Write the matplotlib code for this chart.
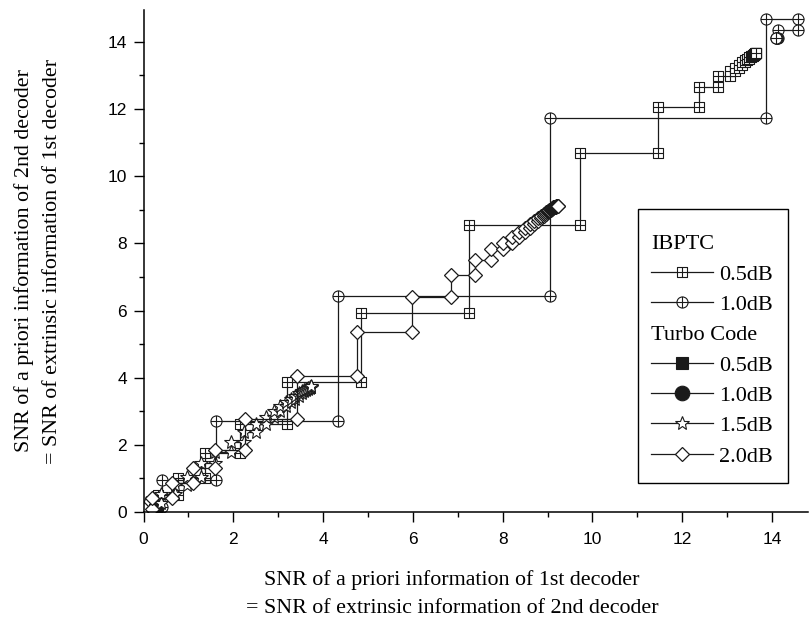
import matplotlib
matplotlib.use("Agg")
import matplotlib.pyplot as plt
from matplotlib.path import Path
from matplotlib.lines import Line2D
from matplotlib.patches import Rectangle
from matplotlib.ticker import MultipleLocator

# decoding trajectories, one value per half-iteration:
# x = SNR of a priori info of decoder 1, y = SNR of its extrinsic output
ib05_x = [0.0, 0.33, 0.77, 1.37, 2.14, 3.20, 4.84, 7.25, 9.72, 11.47, 12.37, 12.80,
          13.07, 13.18, 13.27, 13.34, 13.40, 13.45, 13.49, 13.52, 13.55, 13.57,
          13.59, 13.61, 13.62, 13.63, 13.64, 13.65]
ib05_y = [0.10, 0.50, 1.00, 1.75, 2.62, 3.87, 5.94, 8.55, 10.70, 12.05, 12.65, 12.99,
          13.12, 13.23, 13.32, 13.39, 13.45, 13.50, 13.54, 13.57, 13.59, 13.61,
          13.63, 13.64, 13.65, 13.66, 13.66, 13.67]

ib10_x = [0.0, 0.42, 1.61, 4.33, 9.05, 13.87, 14.58, 14.13, 14.10, 14.09]
ib10_y = [0.15, 0.95, 2.72, 6.44, 11.73, 14.68, 14.34, 14.11, 14.12, 14.11]

tc05_x = [0.0, 0.05, 0.09, 0.12, 0.14, 0.15]
tc05_y = [0.02, 0.04, 0.05, 0.06, 0.06, 0.06]

tc10_x = [0.0, 0.10, 0.17, 0.22, 0.25, 0.27, 0.28]
tc10_y = [0.03, 0.07, 0.10, 0.12, 0.13, 0.14, 0.14]

tc15_x = [0.05, 0.40, 0.70, 0.96, 1.29, 1.60, 1.94, 2.24, 2.50, 2.72, 2.90, 3.05,
          3.18, 3.29, 3.38, 3.46, 3.53, 3.58, 3.63, 3.67, 3.70, 3.72, 3.74]
tc15_y = [0.26, 0.55, 0.80, 1.05, 1.45, 1.80, 2.09, 2.39, 2.63, 2.84, 3.01, 3.16,
          3.28, 3.38, 3.46, 3.53, 3.59, 3.63, 3.67, 3.70, 3.72, 3.73, 3.74]

tc20_x = [0.0, 0.18, 0.63, 1.10, 1.59, 2.26, 3.41, 4.76, 5.97, 6.84, 7.38, 7.75,
          8.00, 8.20, 8.36, 8.50, 8.61, 8.70, 8.78, 8.85, 8.91, 8.96, 9.00, 9.04,
          9.07, 9.10, 9.12, 9.14, 9.16, 9.18, 9.20, 9.23]
tc20_y = [0.10, 0.41, 0.85, 1.30, 1.85, 2.77, 4.04, 5.35, 6.41, 7.06, 7.51, 7.82,
          8.02, 8.20, 8.35, 8.47, 8.58, 8.67, 8.75, 8.82, 8.88, 8.93, 8.97, 9.00,
          9.03, 9.05, 9.07, 9.08, 9.09, 9.10, 9.11, 9.12]


def stairs(xs, ys):
    # horizontal step to the new x, then vertical step to the new y
    px, py = [xs[0]], [ys[0]]
    for i in range(1, len(xs)):
        px += [xs[i], xs[i]]
        py += [ys[i - 1], ys[i]]
    return px, py


# square with a cross, circle with a cross
M, L, C = Path.MOVETO, Path.LINETO, Path.CLOSEPOLY
sq_plus = Path([(-1, -1), (1, -1), (1, 1), (-1, 1), (-1, -1), (-1, 0), (1, 0), (0, -1), (0, 1)],
               [M, L, L, L, C, M, L, M, L])
circ_plus = Path.make_compound_path(Path.unit_circle(),
                                    Path([(-1, 0), (1, 0)], [M, L]),
                                    Path([(0, -1), (0, 1)], [M, L]))

serif = "Liberation Serif"
plt.rcParams["font.family"] = "Liberation Sans"

fig = plt.figure(figsize=(8.09, 6.24), dpi=100)
ax = fig.add_axes([143.5 / 809, 112 / 624, 664.5 / 809, 502 / 624])

lc = "#1a1a1a"
lw = 0.9
series = [
    (ib05_x, ib05_y, dict(marker=sq_plus, ms=7.2, mfc="white", mec=lc, mew=0.8)),
    (ib10_x, ib10_y, dict(marker=circ_plus, ms=8, mfc="white", mec=lc, mew=0.8)),
    (tc05_x, tc05_y, dict(marker="s", ms=9, mfc=lc, mec=lc, mew=0.8)),
    (tc10_x, tc10_y, dict(marker="o", ms=10.5, mfc=lc, mec=lc, mew=0.8)),
    (tc15_x, tc15_y, dict(marker="*", ms=10, mfc="white", mec=lc, mew=0.8)),
    (tc20_x, tc20_y, dict(marker="D", ms=7.5, mfc="white", mec=lc, mew=0.9)),
]
handles = []
for xs, ys, style in series:
    px, py = stairs(xs, ys)
    h, = ax.plot(px, py, color=lc, lw=lw, **style)
    handles.append(h)

ax.set_xlim(0, 14.8)
ax.set_ylim(0, 14.95)
ax.xaxis.set_major_locator(MultipleLocator(2))
ax.xaxis.set_minor_locator(MultipleLocator(1))
ax.yaxis.set_major_locator(MultipleLocator(2))
ax.yaxis.set_minor_locator(MultipleLocator(1))
ax.tick_params(which="major", direction="out", length=7.2, width=1, labelsize=12.5)
ax.tick_params(which="minor", direction="out", length=3.6, width=1)
ax.tick_params(axis="x", which="major", pad=7)
ax.tick_params(axis="y", which="major", pad=4.8)
ax.spines["top"].set_visible(False)
ax.spines["right"].set_visible(False)
for s in ("left", "bottom"):
    ax.spines[s].set_linewidth(1.1)

ax.set_xlabel("SNR of a priori information of 1st decoder\n= SNR of extrinsic information of 2nd decoder",
              family=serif, fontsize=15.8, linespacing=1.65)
ax.xaxis.set_label_coords(0.464, -0.116)
ax.set_ylabel("SNR of a priori information of 2nd decoder\n= SNR of extrinsic information of 1st decoder",
              family=serif, fontsize=15.8, linespacing=1.65)
ax.yaxis.set_label_coords(-0.122, 0.5)

# legend frame drawn separately: it has more room above and below than at the sides
ax.add_patch(Rectangle((0.7446, 0.0584), 0.2257, 0.5446, transform=ax.transAxes,
                       facecolor="white", edgecolor="black", lw=1.0, zorder=4.5,
                       clip_on=False))
blank = Line2D([], [], linestyle="none")
leg_handles = [blank, handles[0], handles[1], blank] + handles[2:]
leg_labels = ["IBPTC", "0.5dB", "1.0dB", "Turbo Code", "0.5dB", "1.0dB", "1.5dB", "2.0dB"]
leg = ax.legend(leg_handles, leg_labels, loc="upper left", bbox_to_anchor=(0.7637, 0.5544),
                borderaxespad=0, frameon=False,
                handlelength=2.8, handletextpad=0.25, labelspacing=0.44, borderpad=0,
                prop=dict(family=serif, size=16))
# header rows: no handle space so the text starts at the left edge
rows = leg._legend_handle_box.get_children()[0].get_children()
for i in (0, 3):
    rows[i].get_children()[0].set_width(0)
    rows[i].sep = 0

fig.savefig("out.png", dpi=100)
